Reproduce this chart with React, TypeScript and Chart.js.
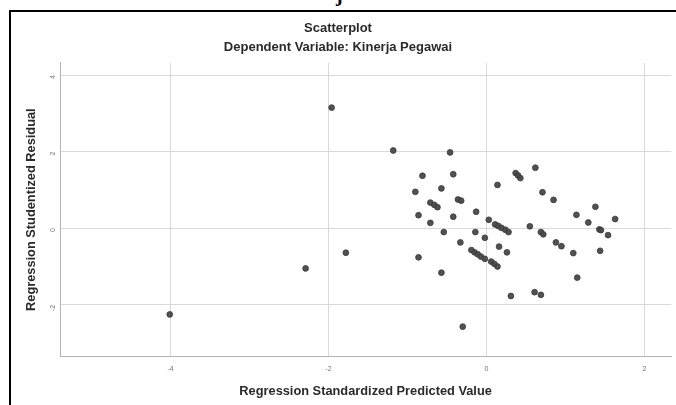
import React, { useEffect, useRef } from "react";
import { Chart, registerables } from "chart.js";

Chart.register(...registerables);

// Regression standardized predicted value (x) and studentized residual (y)
const predicted = [
  -4.01, -2.29, -1.96, -1.78, -1.18, -0.46, -0.81, -0.42, -0.9, -0.57,
  -0.71, -0.66, -0.62, -0.36, -0.32, -0.86, -0.42, -0.13, -0.71, -0.54,
  -0.14, 0.03, 0.11, 0.15, 0.19, 0.24, 0.28, -0.02, -0.33, 0.37,
  0.4, 0.43, 0.14, 0.55, 0.62, -0.19, -0.15, -0.11, -0.07, -0.02,
  0.06, 0.1, 0.14, 0.16, 0.26, 0.69, 0.72, 0.88, 0.95, 1.1,
  -0.86, -0.57, -0.3, 0.31, 0.61, 0.69, 0.71, 0.85, 1.38, 1.14,
  1.63, 1.29, 1.43, 1.45, 1.54, 1.44, 1.15,
];
const residual = [
  -2.25, -1.05, 3.15, -0.64, 2.03, 1.98, 1.37, 1.41, 0.95, 1.04,
  0.67, 0.61, 0.55, 0.75, 0.72, 0.34, 0.3, 0.43, 0.14, -0.1,
  -0.1, 0.22, 0.1, 0.06, 0.01, -0.04, -0.1, -0.25, -0.37, 1.44,
  1.38, 1.31, 1.13, 0.05, 1.58, -0.57, -0.63, -0.68, -0.74, -0.8,
  -0.87, -0.93, -1.0, -0.48, -0.63, -0.1, -0.16, -0.37, -0.47, -0.65,
  -0.76, -1.16, -2.57, -1.77, -1.67, -1.74, 0.94, 0.74, 0.56, 0.35,
  0.24, 0.15, -0.03, -0.05, -0.18, -0.59, -1.29,
];

const xTicks = [-4, -2, 0, 2];
const yTicks = [-2, 0, 2, 4];

const chartTitle = "Scatterplot";
const chartSubtitle = "Dependent Variable: Kinerja Pegawai";
const xTitle = "Regression Standardized Predicted Value";
const yTitle = "Regression Studentized Residual";

const FONT = "'Liberation Sans', Arial, sans-serif";
const TEXT = "#2a2a2a";

export default function App() {
  const ref = useRef<HTMLCanvasElement | null>(null);

  useEffect(() => {
    if (!ref.current) return;
    const points = predicted.map((x, i) => ({ x, y: residual[i] }));
    const chart = new Chart(ref.current, {
      type: "scatter",
      data: {
        datasets: [
          {
            data: points,
            backgroundColor: "rgba(72,72,72,0.95)",
            borderColor: "#3a3a3a",
            borderWidth: 0.8,
            pointRadius: 2.9,
          },
        ],
      },
      options: {
        animation: false,
        responsive: false,
        layout: { padding: { top: 10, left: 0, right: 0, bottom: 0 } },
        plugins: {
          legend: { display: false },
          tooltip: { enabled: false },
          title: {
            display: true,
            text: chartTitle,
            color: TEXT,
            font: { family: FONT, size: 13, weight: "bold", lineHeight: 1.2 },
            padding: { top: 10.5, bottom: 4 },
          },
          subtitle: {
            display: true,
            text: chartSubtitle,
            color: TEXT,
            font: { family: FONT, size: 13, weight: "bold", lineHeight: 1.2 },
            padding: { top: 0, bottom: 7.1 },
          },
        },
        scales: {
          x: {
            type: "linear",
            min: -5.4,
            max: 2.34,
            afterBuildTicks: (s: any) => {
              s.ticks = xTicks.map((v) => ({ value: v }));
            },
            afterFit: (s: any) => {
              s.height = 48.5;
            },
            grid: { color: "#d9d9d9", lineWidth: 1, drawTicks: false },
            border: { color: "#b3b3b3", width: 1 },
            ticks: {
              autoSkip: false,
              maxRotation: 0,
              padding: 8,
              color: "#777",
              font: { family: FONT, size: 7 },
            },
            title: {
              display: true,
              text: xTitle,
              color: TEXT,
              font: { family: FONT, size: 12.8, weight: "bold", lineHeight: 1.2 },
              padding: { top: 0, bottom: 6.3 },
            },
          },
          y: {
            type: "linear",
            min: -3.35,
            max: 4.32,
            afterBuildTicks: (s: any) => {
              s.ticks = yTicks.map((v) => ({ value: v }));
            },
            afterFit: (s: any) => {
              s.width = 60;
            },
            grid: { color: "#d9d9d9", lineWidth: 1, drawTicks: false },
            border: { color: "#b3b3b3", width: 1 },
            ticks: {
              autoSkip: false,
              minRotation: 90,
              maxRotation: 90,
              padding: 7,
              color: "#777",
              font: { family: FONT, size: 7 },
            },
            title: {
              display: true,
              text: yTitle,
              color: TEXT,
              font: { family: FONT, size: 12.8, weight: "bold", lineHeight: 1.2 },
              padding: { top: 24, bottom: 0 },
            },
          },
        },
      },
    });
    return () => chart.destroy();
  }, []);

  return (
    <div
      style={{
        position: "fixed",
        left: 0,
        top: 0,
        width: 676,
        height: 405,
        overflow: "hidden",
        background: "#fff",
      }}
    >
      <span
        style={{
          position: "absolute",
          left: 336,
          top: -16,
          fontFamily: "'Liberation Serif', serif",
          fontWeight: "bold",
          fontSize: 20,
          lineHeight: "20px",
          color: "#000",
        }}
      >
        j
      </span>
      <div
        style={{
          position: "absolute",
          left: 9,
          top: 10,
          width: 720,
          height: 440,
          borderTop: "2px solid #000",
          borderLeft: "2px solid #000",
        }}
      />
      <canvas
        ref={ref}
        width={676}
        height={405}
        style={{ position: "absolute", left: 0, top: 0 }}
      />
    </div>
  );
}
